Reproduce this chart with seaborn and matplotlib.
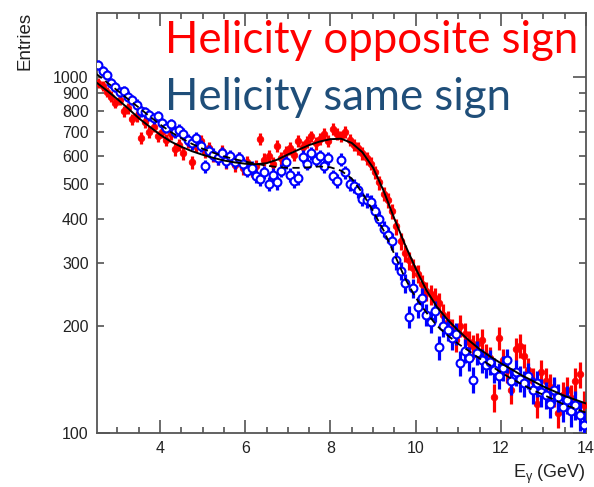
import numpy as np
import pandas as pd
import matplotlib
matplotlib.use("Agg")
import matplotlib.pyplot as plt
import seaborn as sns

# Photon-energy spectra, 0.1 GeV bins starting at 2.5 GeV
bin_start = 2.55
bin_width = 0.1

opposite_counts = [
    960, 940, 905, 880, 845, 860, 800, 815, 760, 775,
    675, 745, 700, 725, 680, 700, 665, 690, 625, 645,
    610, 655, 575, 640, 660, 615, 630, 600, 590, 620,
    575, 595, 565, 590, 555, 575, 545, 560, 670, 585,
    600, 570, 640, 590, 615, 630, 605, 660, 635, 655,
    680, 650, 670, 690, 660, 715, 690, 680, 700, 665,
    645, 630, 610, 590, 570, 540, 505, 470, 450, 420,
    380, 345, 320, 305, 290, 280, 262, 250, 245, 240,
    232, 215, 205, 195, 182, 200, 190, 180, 175, 178,
    182, 165, 162, 126, 185, 160, 150, 132, 172, 176,
    165, 150, 140, 121, 148, 140, 135, 130, 114, 128,
    132, 125, 140, 146, 120,
]

same_counts = [
    1080, 1040, 1010, 960, 935, 905, 910, 880, 860, 835,
    800, 795, 780, 765, 775, 740, 720, 735, 700, 710,
    690, 665, 650, 675, 640, 560, 620, 605, 590, 610,
    580, 600, 575, 590, 570, 545, 555, 525, 515, 540,
    500, 530, 505, 545, 575, 530, 510, 520, 597, 570,
    610, 585, 600, 560, 590, 525, 510, 585, 540, 500,
    495, 480, 455, 450, 445, 420, 400, 375, 360, 345,
    305, 285, 263, 212, 255, 226, 240, 215, 205, 220,
    174, 200, 195, 185, 190, 157, 170, 162, 141, 168,
    160, 155, 158, 150, 145, 152, 160, 140, 148, 142,
    138, 145, 132, 138, 130, 128, 121, 132, 126, 118,
    124, 115, 120, 112, 105,
]

# Fitted curves, tabulated every 0.25 GeV from 2.5 to 14 GeV
fit_energy = [
    2.50, 2.75, 3.00, 3.25, 3.50, 3.75, 4.00, 4.25, 4.50, 4.75,
    5.00, 5.25, 5.50, 5.75, 6.00, 6.25, 6.50, 6.75, 7.00, 7.25,
    7.50, 7.75, 8.00, 8.25, 8.50, 8.75, 9.00, 9.25, 9.50, 9.75,
    10.00, 10.25, 10.50, 10.75, 11.00, 11.25, 11.50, 11.75, 12.00, 12.25,
    12.50, 12.75, 13.00, 13.25, 13.50, 13.75, 14.00,
]
fit_opposite = [
    965, 915, 865, 815, 765, 725, 688, 658, 636, 618,
    604, 592, 582, 575, 570, 568, 572, 585, 605, 624,
    643, 658, 668, 670, 652, 614, 556, 478, 400, 338,
    290, 252, 226, 208, 194, 182, 172, 164, 157, 151,
    145, 140, 135, 131, 127, 124, 121,
]
fit_same = [
    1020, 965, 915, 865, 820, 775, 735, 700, 672, 648,
    628, 612, 598, 587, 578, 570, 563, 558, 555, 555,
    557, 560, 557, 545, 518, 472, 420, 370, 318, 272,
    240, 218, 200, 188, 178, 170, 162, 155, 148, 142,
    137, 132, 128, 124, 120, 117, 114,
]

label_opposite = "Helicity opposite sign"
label_same = "Helicity same sign"
x_ticks = [4, 6, 8, 10, 12, 14]
y_ticks = [100, 200, 300, 400, 500, 600, 700, 800, 900, 1000]

energy = bin_start + bin_width * np.arange(len(opposite_counts))
points = pd.concat([
    pd.DataFrame({"E": energy, "N": opposite_counts, "set": "opposite"}),
    pd.DataFrame({"E": energy, "N": same_counts, "set": "same"}),
])
points["err"] = np.sqrt(points["N"])
curves = pd.concat([
    pd.DataFrame({"E": fit_energy, "N": fit_opposite, "set": "opposite"}),
    pd.DataFrame({"E": fit_energy, "N": fit_same, "set": "same"}),
])

sns.set_theme(style="ticks")
plt.rcParams["font.family"] = ["Liberation Sans", "DejaVu Sans"]

fig = plt.figure(figsize=(5.94, 4.87), dpi=100)
ax = fig.add_axes([97 / 594, 1 - 433 / 487, 489 / 594, 420 / 487])

red = "#ff0000"
blue = "#0000ff"

opp = points[points["set"] == "opposite"]
same = points[points["set"] == "same"]

# Poisson error bars
ax.vlines(opp["E"], opp["N"] - opp["err"], opp["N"] + opp["err"],
          color=red, lw=2.3, zorder=2)
sns.scatterplot(data=opp, x="E", y="N", ax=ax, color=red, s=22,
                edgecolor=red, linewidth=0.6, zorder=3, legend=False)

ax.vlines(same["E"], same["N"] - same["err"], same["N"] + same["err"],
          color=blue, lw=2.3, zorder=4)
sns.scatterplot(data=same, x="E", y="N", ax=ax, facecolor="white",
                edgecolor=blue, s=32, linewidth=1.5, zorder=5, legend=False)

sns.lineplot(data=curves[curves["set"] == "opposite"], x="E", y="N", ax=ax,
             color="black", lw=1.4, zorder=6, legend=False)
sns.lineplot(data=curves[curves["set"] == "same"], x="E", y="N", ax=ax,
             color="black", lw=1.3, linestyle=(0, (4, 2.5)), zorder=6,
             legend=False)

ax.set_yscale("log")
ax.set_xlim(2.52, 14.0)
ax.set_ylim(100, 1510)
ax.set_xlabel("")
ax.set_ylabel("")

# Axis ticks drawn inward on all four sides
ax.set_xticks(x_ticks)
ax.set_xticklabels([str(t) for t in x_ticks])
ax.set_xticks(np.arange(3.0, 14.0, 0.5), minor=True)
ax.set_yticks([100, 1000], labels=["100", "1000"])
ax.set_yticks(y_ticks[1:-1], labels=[str(t) for t in y_ticks[1:-1]], minor=True)

for which, length in (("major", 9.5), ("minor", 4.5)):
    ax.tick_params(axis="both", which=which, direction="in", length=length,
                   width=1.1, color="#444444", top=True, right=True,
                   labelsize=11.5, labelcolor="#222222", pad=6)
ax.tick_params(axis="y", which="minor", length=5)

for sp in ax.spines.values():
    sp.set_color("#555555")
    sp.set_linewidth(1.3)

fig.text(25 / 594, 1 - 12 / 487, "Entries", rotation=90, ha="center",
         va="top", fontsize=13.5, color="#222222")
fig.text(586 / 594, 1 - 474 / 487, r"E$_\mathregular{\gamma}$ (GeV)",
         ha="right", va="center", fontsize=13, color="#222222")

fig.text(165 / 594, 1 - 53 / 487, label_opposite, color=red,
         fontsize=31.5, family=["Lato", "DejaVu Sans"], ha="left",
         va="baseline")
fig.text(165 / 594, 1 - 110 / 487, label_same, color="#1f4e79",
         fontsize=31.5, family=["Lato", "DejaVu Sans"], ha="left",
         va="baseline")

fig.savefig("out.png", dpi=100)
